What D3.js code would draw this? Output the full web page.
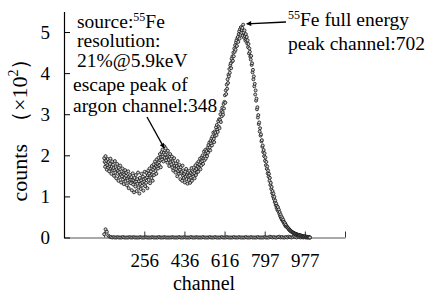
<!DOCTYPE html>
<html>
<head>
<meta charset="utf-8">
<script src="https://cdn.jsdelivr.net/npm/d3@7"></script>
<style>
  body { margin: 0; background: #fff; }
  svg { display: block; font-family: "Liberation Serif", "Times New Roman", serif; }
</style>
</head>
<body>
<div id="chart"></div>
<script>
// spectrum counts (x100), one value every 2 channels from channel 76
var firstChannel = 76, channelStep = 2;
var counts = [
  1.93, 1.84, 1.72, 1.98, 1.80, 1.87, 1.65, 1.76, 1.91, 1.70,
  1.83, 1.61, 1.74, 1.79, 1.92, 1.68, 1.55, 1.72, 1.85, 1.64,
  1.77, 1.69, 1.50, 1.63, 1.86, 1.58, 1.71, 1.44, 1.66, 1.79,
  1.55, 1.62, 1.38, 1.70, 1.59, 1.47, 1.75, 1.52, 1.34, 1.61,
  1.49, 1.68, 1.41, 1.56, 1.30, 1.53, 1.45, 1.64, 1.37, 1.50,
  1.58, 1.27, 1.43, 1.39, 1.61, 1.20, 1.48, 1.34, 1.52, 1.41,
  1.32, 1.47, 1.15, 1.40, 1.56, 1.29, 1.38, 1.10, 1.45, 1.35,
  1.24, 1.52, 1.36, 1.13, 1.42, 1.31, 1.58, 1.22, 1.37, 1.07,
  1.45, 1.30, 1.18, 1.39, 1.55, 1.26, 1.34, 1.48, 1.14, 1.41,
  1.36, 1.60, 1.25, 1.44, 1.33, 1.57, 1.47, 1.20, 1.52, 1.63,
  1.40, 1.55, 1.68, 1.32, 1.50, 1.61, 1.45, 1.74, 1.53, 1.38,
  1.65, 1.78, 1.52, 1.70, 1.85, 1.62, 1.74, 1.55, 1.90, 1.72,
  1.80, 1.68, 1.94, 1.83, 1.75, 2.03, 1.88, 1.71, 1.96, 2.08,
  1.90, 2.14, 1.97, 1.85, 2.06, 2.22, 1.94, 2.02, 2.17, 1.88,
  2.08, 1.95, 1.82, 2.11, 1.98, 1.89, 1.74, 1.96, 2.03, 1.83,
  1.92, 1.78, 1.97, 1.70, 1.85, 1.63, 1.81, 1.93, 1.68, 1.75,
  1.58, 1.80, 1.66, 1.74, 1.49, 1.86, 1.62, 1.70, 1.55, 1.77,
  1.65, 1.42, 1.71, 1.56, 1.60, 1.38, 1.75, 1.50, 1.63, 1.45,
  1.55, 1.34, 1.60, 1.48, 1.67, 1.42, 1.52, 1.31, 1.58, 1.49,
  1.40, 1.62, 1.51, 1.33, 1.57, 1.46, 1.69, 1.38, 1.55, 1.60,
  1.48, 1.70, 1.57, 1.44, 1.63, 1.76, 1.52, 1.67, 1.59, 1.81,
  1.72, 1.60, 1.85, 1.69, 1.78, 1.92, 1.66, 1.83, 1.75, 1.95,
  1.86, 2.00, 1.79, 1.93, 2.09, 1.88, 1.97, 2.13, 1.92, 2.05,
  2.10, 1.98, 2.18, 2.06, 2.25, 2.14, 2.31, 2.19, 2.12, 2.35,
  2.29, 2.41, 2.24, 2.46, 2.35, 2.55, 2.40, 2.32, 2.58, 2.47,
  2.55, 2.68, 2.49, 2.74, 2.62, 2.57, 2.83, 2.70, 2.88, 2.66,
  2.86, 3.00, 2.81, 3.08, 2.95, 3.16, 3.05, 2.99, 3.25, 3.14,
  3.30, 3.46, 3.28, 3.58, 3.49, 3.72, 3.62, 3.85, 3.76, 3.96,
  3.92, 4.10, 4.01, 4.19, 4.24, 4.12, 4.35, 4.28, 4.41, 4.30,
  4.50, 4.41, 4.60, 4.52, 4.68, 4.57, 4.75, 4.80, 4.66, 4.85,
  4.88, 4.76, 4.95, 5.02, 4.84, 5.07, 4.93, 5.12, 4.98, 5.05,
  5.10, 4.91, 5.18, 4.99, 4.86, 5.04, 4.90, 4.79, 4.95, 4.82,
  4.88, 4.72, 4.80, 4.63, 4.71, 4.48, 4.60, 4.52, 4.40, 4.33,
  4.42, 4.20, 4.24, 4.02, 4.08, 3.85, 3.92, 3.68, 3.74, 3.48,
  3.58, 3.33, 3.38, 3.12, 3.17, 2.92, 2.98, 2.76, 2.80, 2.58,
  2.66, 2.48, 2.51, 2.34, 2.37, 2.21, 2.24, 2.08, 2.13, 1.98,
  2.05, 1.87, 1.95, 1.76, 1.84, 1.67, 1.73, 1.56, 1.63, 1.48,
  1.55, 1.38, 1.45, 1.28, 1.33, 1.18, 1.23, 1.08, 1.13, 1.00,
  1.07, 0.94, 0.99, 0.86, 0.90, 0.79, 0.83, 0.72, 0.77, 0.67,
  0.74, 0.64, 0.68, 0.58, 0.62, 0.52, 0.56, 0.47, 0.51, 0.43,
  0.47, 0.40, 0.43, 0.36, 0.38, 0.32, 0.35, 0.28, 0.31, 0.26,
  0.27, 0.25, 0.24, 0.22, 0.22, 0.19, 0.19, 0.17, 0.17, 0.15,
  0.15, 0.14, 0.13, 0.12, 0.12, 0.11, 0.10, 0.10, 0.09, 0.09,
  0.09, 0.08, 0.08, 0.07, 0.07, 0.06, 0.06, 0.06, 0.05, 0.05,
  0.05, 0.04, 0.05, 0.03, 0.04, 0.03, 0.03, 0.02, 0.03, 0.02,
  0.02, 0.03, 0.01, 0.02, 0.01, 0.02, 0.01, 0.01, 0.00, 0.01,
  0.01, 0.00, 0.00
];

// background run (x100), one value every 6 channels from channel 76
var bgStep = 6;
var bgCounts = [
  0.08, 0.20, 0.14, 0.05, 0.02, 0.01, 0.00, 0.01, 0.00, 0.00, 0.01, 0.00, 0.00, 0.00, 0.01, 0.00, 0.00, 0.00, 0.00, 0.01,
  0.00, 0.00, 0.01, 0.00, 0.00, 0.00, 0.00, 0.01, 0.00, 0.00, 0.00, 0.01, 0.00, 0.00, 0.00, 0.00, 0.01, 0.00, 0.00, 0.00,
  0.00, 0.01, 0.00, 0.00, 0.00, 0.01, 0.00, 0.00, 0.00, 0.00, 0.00, 0.01, 0.00, 0.00, 0.00, 0.00, 0.01, 0.00, 0.00, 0.00,
  0.01, 0.00, 0.00, 0.00, 0.00, 0.01, 0.00, 0.00, 0.00, 0.01, 0.00, 0.00, 0.00, 0.00, 0.01, 0.00, 0.00, 0.00, 0.00, 0.01,
  0.00, 0.00, 0.00, 0.01, 0.00, 0.00, 0.00, 0.00, 0.01, 0.00, 0.00, 0.00, 0.01, 0.00, 0.00, 0.00, 0.00, 0.01, 0.00, 0.00,
  0.00, 0.01, 0.00, 0.00, 0.00, 0.00, 0.01, 0.00, 0.00, 0.00, 0.01, 0.00, 0.00, 0.00, 0.00, 0.01, 0.00, 0.00, 0.00, 0.00,
  0.01, 0.00, 0.00, 0.00, 0.02, 0.01, 0.00, 0.01, 0.00, 0.00, 0.01, 0.02, 0.00, 0.01, 0.00, 0.00, 0.01, 0.00, 0.02, 0.01,
  0.00, 0.01, 0.03, 0.01, 0.00, 0.02, 0.01, 0.00, 0.01, 0.00, 0.01, 0.00, 0.00, 0.01, 0.00
];

// axis settings
var xDomain = [-104.5, 1157.25];
var xTicks = [75.75, 256, 436.25, 616.5, 796.75, 977, 1157.25];
var xTickLabels = ["", "256", "436", "616", "797", "977", ""];
var yDomain = [0, 5.5];
var yTicks = [0, 1, 2, 3, 4, 5];

var width = 429, height = 299;
var margin = {top: 11.5, right: 84, bottom: 61.5, left: 64};

var svg = d3.select("#chart").append("svg")
    .attr("width", width)
    .attr("height", height);

var defs = svg.append("defs");
defs.append("marker")
    .attr("id", "arrow")
    .attr("viewBox", "0 0 10 10")
    .attr("refX", 9).attr("refY", 5)
    .attr("markerWidth", 8).attr("markerHeight", 5)
    .attr("markerUnits", "userSpaceOnUse")
    .attr("orient", "auto")
  .append("path")
    .attr("d", "M0,0L10,5L0,10z")
    .attr("fill", "#000");

var x = d3.scaleLinear().domain(xDomain).range([margin.left, width - margin.right]);
var y = d3.scaleLinear().domain(yDomain).range([height - margin.bottom, margin.top]);

var bgData = bgCounts.map(function(v, i) { return {c: firstChannel + i * bgStep, v: v}; });
var spec = counts.map(function(v, i) { return {c: firstChannel + i * channelStep, v: v}; });

// axes
var xAxis = svg.append("g")
    .attr("transform", "translate(0," + y(0) + ")")
    .call(d3.axisBottom(x)
      .tickValues(xTicks)
      .tickFormat(function(d, i) { return xTickLabels[i]; })
      .tickSizeInner(-6)
      .tickSizeOuter(0)
      .tickPadding(16));
xAxis.select(".domain").attr("stroke", "#555").attr("stroke-width", 1.2);
xAxis.selectAll(".tick line").attr("stroke", "#333");
xAxis.selectAll("text").attr("font-size", 19).attr("fill", "#000")
    .attr("font-family", "Liberation Serif, serif");

var yAxis = svg.append("g")
    .attr("transform", "translate(" + x(xDomain[0]) + ",0)")
    .call(d3.axisLeft(y)
      .tickValues(yTicks)
      .tickFormat(d3.format("d"))
      .tickSizeInner(-6)
      .tickSizeOuter(0)
      .tickPadding(14));
yAxis.select(".domain").attr("stroke", "#000").attr("stroke-width", 1.2);
yAxis.selectAll("text").attr("font-size", 19).attr("fill", "#000")
    .attr("font-family", "Liberation Serif, serif");

function drawDots(data) {
  svg.append("g").selectAll("circle")
      .data(data)
    .enter().append("circle")
      .attr("cx", function(d) { return x(d.c); })
      .attr("cy", function(d) { return y(d.v); })
      .attr("r", 1.5)
      .attr("fill", "#cfcfcf")
      .attr("stroke", "#111")
      .attr("stroke-width", 0.8);
}
drawDots(bgData);
drawDots(spec);

// axis titles
svg.append("text")
    .attr("x", 204).attr("y", 290)
    .attr("text-anchor", "middle")
    .attr("font-size", 20)
    .text("channel");

var yl = svg.append("text")
    .attr("transform", "translate(27,124.5) rotate(-90)")
    .attr("text-anchor", "middle")
    .attr("font-size", 22);
yl.append("tspan").text("counts\u2002\uFF08\u00D710");
yl.append("tspan").attr("dy", -9).attr("font-size", 14).text("2");
yl.append("tspan").attr("dy", 9).text("\uFF09");

// annotation text; a part with sup is raised and smaller
function label(g, xx, yy, parts) {
  var t = g.append("text").attr("x", xx).attr("y", yy).attr("font-size", 19.5);
  var shift = 0;
  parts.forEach(function(p) {
    if (p.sup) {
      t.append("tspan").attr("dy", -7).attr("font-size", 12).text(p.sup);
      shift = 7;
    } else {
      t.append("tspan").attr("dy", shift).text(p.t);
      shift = 0;
    }
  });
}
var ann = svg.append("g");
label(ann, 77, 28, [{t: "source:"}, {sup: "55"}, {t: "Fe"}]);
label(ann, 77, 47, [{t: "resolution:"}]);
label(ann, 77, 67, [{t: "21%@5.9keV"}]);
label(ann, 73, 91, [{t: "escape peak of"}]);
label(ann, 73, 112, [{t: "argon channel:348"}]);
label(ann, 288, 26, [{sup: "55"}, {t: "Fe full energy"}]);
label(ann, 288, 50, [{t: "peak channel:702"}]);

// arrows to the two peaks
ann.append("line")
    .attr("x1", 147).attr("y1", 117)
    .attr("x2", x(345)).attr("y2", y(2.18))
    .attr("stroke", "#000").attr("stroke-width", 1.3)
    .attr("marker-end", "url(#arrow)");
ann.append("line")
    .attr("x1", 286).attr("y1", 22)
    .attr("x2", x(716)).attr("y2", y(5.2))
    .attr("stroke", "#000").attr("stroke-width", 1.3)
    .attr("marker-end", "url(#arrow)");
</script>
</body>
</html>
